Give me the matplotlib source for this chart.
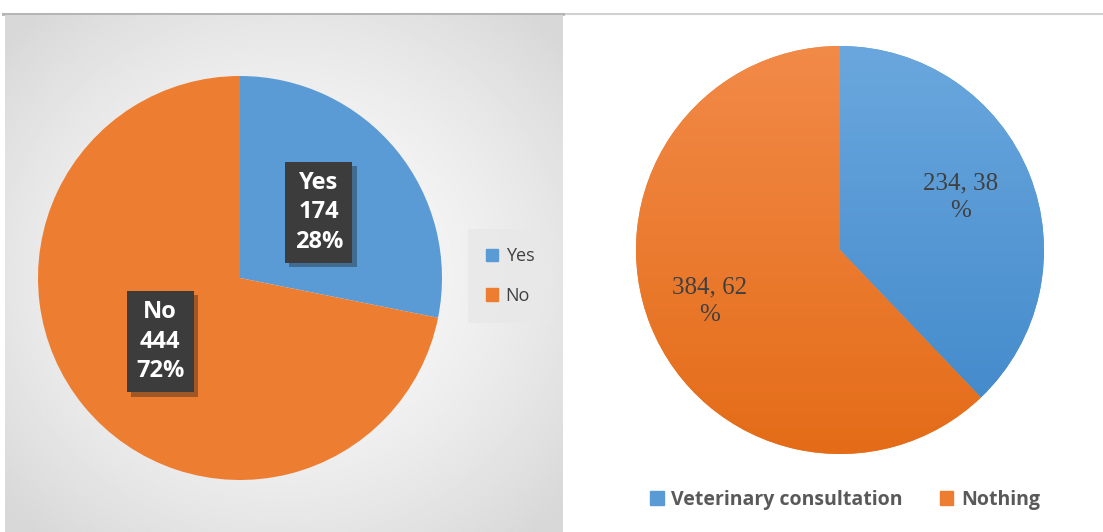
import numpy as np
import matplotlib.pyplot as plt
import matplotlib.patheffects as pe
from matplotlib.colors import to_rgb
from matplotlib.patches import Patch

# data
left_labels = ['Yes', 'No']
left_values = [174, 444]
left_pcts = ['28%', '72%']
right_labels = ['Veterinary consultation', 'Nothing']
right_values = [234, 384]
right_pcts = ['38', '62']

blue = '#5b9bd5'
orange = '#ed7d31'

W, H = 1103, 532
fig = plt.figure(figsize=(W / 100, H / 100), dpi=100)
fig.patch.set_facecolor('white')


def px_axes(x0, y0, x1, y1, **kw):
    # pixel box (top-left origin) -> figure axes
    return fig.add_axes([x0 / W, 1 - y1 / H, (x1 - x0) / W, (y1 - y0) / H], **kw)


# top border line
line_ax = px_axes(0, 0, W, H)
line_ax.set_xlim(0, W)
line_ax.set_ylim(H, 0)
line_ax.axis('off')
line_ax.plot([3, W], [14, 14], color='#d0d0d0', lw=1.5)
line_ax.plot([3, 563], [14, 14], color='#b4b4b4', lw=2)

# left panel gradient background
bg = px_axes(5, 15, 563, H)
yy, xx = np.mgrid[-1:1:300j, -1:1:300j]
r = np.sqrt(xx ** 2 + yy ** 2)
shade = 0.985 - 0.14 * np.clip(r / 1.35, 0, 1) ** 1.6
bg.imshow(shade, cmap='gray', vmin=0, vmax=1, aspect='auto', extent=[0, 1, 0, 1])
bg.set_xlim(0, 1)
bg.set_ylim(0, 1)
bg.axis('off')

# left pie
ax1 = px_axes(38, 76, 442, 480)
ax1.pie(left_values, colors=[blue, orange], startangle=90, counterclock=False,
        radius=1, wedgeprops=dict(linewidth=0))
ax1.set_xlim(-1, 1)
ax1.set_ylim(-1, 1)
ax1.set_aspect('equal')

label_pos = [(0.39, 0.325), (-0.395, -0.315)]
for (x, y), lab, v, p in zip(label_pos, left_labels, left_values, left_pcts):
    t = ax1.text(x, y, f'{lab}\n{v}\n{p}', ha='center', va='center',
                 fontsize=17, fontweight='bold', family='Open Sans', color='white',
                 linespacing=1.3,
                 bbox=dict(boxstyle='square,pad=0.4', facecolor='#3c3c3c',
                           edgecolor='none'))
    t.get_bbox_patch().set_path_effects(
        [pe.SimplePatchShadow(offset=(3, -3), alpha=0.35), pe.Normal()])

# left legend
leg1 = fig.legend(handles=[Patch(color=blue, label='Yes'), Patch(color=orange, label='No')],
                  loc='center', bbox_to_anchor=(510 / W, 1 - 276 / H),
                  frameon=True, fancybox=False, handlelength=0.7,
                  handleheight=0.7, handletextpad=0.4, labelspacing=1.2,
                  borderpad=1.0, prop={'family': 'Open Sans', 'size': 13})
leg1.get_frame().set_facecolor('#e8e8e8')
leg1.get_frame().set_edgecolor('none')
for t in leg1.get_texts():
    t.set_color('#404040')

# right pie with vertical gradient fill
ax2 = px_axes(636, 46, 1044, 454)
wedges, _ = ax2.pie(right_values, colors=[blue, orange], startangle=90,
                    counterclock=False, radius=1, wedgeprops=dict(linewidth=0))
ax2.set_xlim(-1, 1)
ax2.set_ylim(-1, 1)
ax2.set_aspect('equal')

grads = [('#6aa7de', '#3f87c9'), ('#f28a48', '#e46c18')]
g = np.linspace(0, 1, 256)[:, None]
for w, (top, bot) in zip(wedges, grads):
    c0 = np.array(to_rgb(top))
    c1 = np.array(to_rgb(bot))
    img = c0[None, None, :] * (1 - g[:, :, None]) + c1[None, None, :] * g[:, :, None]
    img = np.repeat(img, 4, axis=1)
    im = ax2.imshow(img, extent=[-1, 1, -1, 1], aspect='auto', zorder=2)
    im.set_clip_path(w)

ax2.text(0.59, 0.26, f'{right_values[0]}, {right_pcts[0]}\n%', ha='center', va='center',
         fontsize=18, family='Liberation Serif', color='#404040', zorder=5,
         linespacing=1.3)
ax2.text(-0.64, -0.25, f'{right_values[1]}, {right_pcts[1]}\n%', ha='center', va='center',
         fontsize=18, family='Liberation Serif', color='#404040', zorder=5,
         linespacing=1.3)

# right legend
leg2 = fig.legend(handles=[Patch(color=blue, label=right_labels[0]),
                           Patch(color=orange, label=right_labels[1])],
                  loc='center', bbox_to_anchor=(845 / W, 1 - 500 / H), ncol=2,
                  frameon=False, handlelength=0.7, handleheight=0.7,
                  handletextpad=0.4, columnspacing=1.9,
                  prop={'family': 'Open Sans', 'size': 14, 'weight': 'bold'})
for t in leg2.get_texts():
    t.set_color('#595959')

fig.savefig('out.png', dpi=100)
